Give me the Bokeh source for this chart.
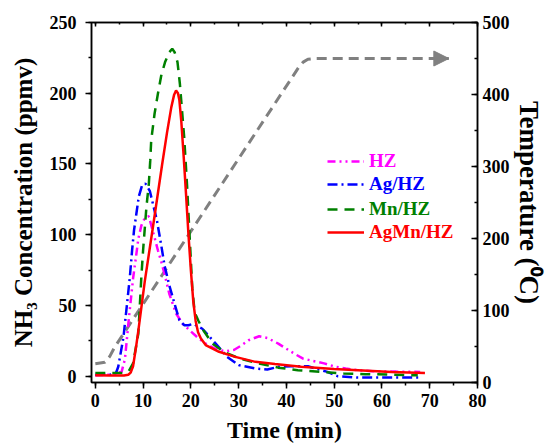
from bokeh.plotting import figure
from bokeh.models import (Range1d, LinearAxis, SingleIntervalTicker, Legend, LegendItem,
                          Arrow, NormalHead)
from bokeh.embed import file_html
from bokeh.resources import INLINE

# ---------------- data ----------------
time_hz = [0, 3, 5.5, 6.2, 7.0, 7.9, 8.5, 9.0, 9.65, 10.4, 11.2, 12.4, 13.1, 13.8, 14.5, 15.5,
           16.9, 18.3, 19.7, 21.5, 23.1, 25.0, 27.2, 29.0, 30.5, 32.1, 34.3, 36.0, 38.3, 41.0,
           43.4, 45.5, 47.9, 50.3, 52.4, 54.8, 58, 63, 68]
nh3_hz = [0.5, 1.0, 3, 12, 40, 69, 84, 97, 106.6, 112, 113, 98, 89, 81, 72, 58,
          44.3, 37, 32.5, 27, 23, 19.5, 17.5, 18.5, 21.5, 25.4, 28.2, 27, 23, 17.2,
          12.5, 10.8, 9, 6.6, 5.4, 4.2, 3.5, 3.2, 3]

time_ag = [0, 3, 4.3, 4.8, 5.9, 7.2, 7.7, 8.1, 8.6, 9.1, 9.8, 10.5, 11.4, 12.9, 13.8, 14.5,
           15.5, 16.6, 17.6, 18.6, 19.5, 20.5, 22.4, 25.2, 27.6, 30, 33.5, 36, 38.3, 41,
           44.5, 46.5, 48.6, 50.7, 54.8, 60, 67.6]
nh3_ag = [1, 1, 2, 6.6, 27.7, 69, 89, 103, 115, 127, 135, 136, 131, 110, 92.5, 78,
          64, 51, 39.5, 36, 36, 37, 33.5, 23, 13.6, 7.8, 5.4, 4.7, 6.6, 7,
          7, 5, 3, 0, -1, -1, -1]

time_mn = [0, 3, 5.9, 7, 7.9, 9.0, 9.65, 10.0, 10.7, 11.2, 11.5, 11.7, 12.4, 13.1, 13.8, 14.6,
           15.5, 16.1, 16.6, 17.2, 17.7, 18.1, 18.6, 19.2, 19.8, 20.3, 20.8, 21.6, 22.5, 24.5,
           27, 30, 34.1, 38.3, 42.4, 47.6, 52, 56.5, 61, 65.5, 67.5]
nh3_mn = [2.3, 2.3, 2.3, 3.5, 9, 30, 71, 89, 119.6, 136, 152.5, 166.7, 185.5, 199.6, 212.5, 222,
          229, 231.4, 229, 222, 206.7, 190, 169, 135, 95, 62, 45, 39, 33, 23,
          17, 12.7, 9, 6, 4.2, 3, 1.9, 1.4, 1.2, 0.7, 0.7]

time_agmn = [0, 3, 6, 6.9, 7.4, 7.9, 8.5, 9.0, 10.35, 12.0, 14.0, 15.0, 15.9, 16.5, 16.9, 17.3,
             17.6, 18.0, 18.5, 19.0, 19.5, 20.0, 20.5, 21.0, 21.5, 22.1, 23.1, 25.9, 29.3, 33.5,
             37.6, 43.1, 50, 56, 62, 69]
nh3_agmn = [0.7, 0.5, 0.5, 1, 2.5, 7, 20, 32, 67, 104, 150, 172, 190, 199, 202, 200,
            195, 180, 155, 128, 100, 75, 53, 39, 31, 26.6, 22, 17.2, 13.6, 10.1,
            8.5, 6.6, 5, 4, 3, 2.3]

time_temp = [0, 2, 3, 4, 42.5, 43.5, 44.5, 46, 74]
temp_c = [26, 28, 36, 48.5, 437, 445, 449, 450, 450]

labels = ["HZ", "Ag/HZ", "Mn/HZ", "AgMn/HZ"]
colors = ["#FF00FF", "#0000FF", "#008000", "#FF0000"]
dashes = ["8 4 2 4 2 4", "10 4 2 4", "10 7", "solid"]

x_ticks_interval = 10
y_ticks_interval = 50
t_ticks_interval = 100
x_tick_values = [0, 10, 20, 30, 40, 50, 60, 70, 80]

FONT = "Liberation Serif"

p = figure(width=546, height=448, output_backend="svg", toolbar_location=None,
           x_range=Range1d(-0.8, 80), y_range=Range1d(-4.5, 250))
p.min_border_left = 91
p.min_border_right = 65
p.min_border_top = 22
p.min_border_bottom = 66
p.xgrid.visible = False
p.ygrid.visible = False
p.outline_line_color = "black"
p.outline_line_width = 1.5
p.background_fill_color = "white"
p.border_fill_color = "white"

p.extra_y_ranges = {"temp": Range1d(0, 500)}

def style_axis(ax, tin, tout):
    ax.axis_line_width = 1.5
    ax.axis_line_color = "black"
    ax.major_tick_line_width = 1.5
    ax.minor_tick_line_width = 1.5
    ax.major_tick_in = tin
    ax.major_tick_out = tout
    ax.minor_tick_in = tin // 2 if tin else 0
    ax.minor_tick_out = tout // 2 if tout else 0
    ax.major_label_text_font = FONT
    ax.major_label_text_font_style = "bold"
    ax.major_label_text_font_size = "18px"
    ax.major_label_text_color = "black"
    ax.axis_label_text_font = FONT
    ax.axis_label_text_font_style = "bold"
    ax.axis_label_text_font_size = "25px"
    ax.axis_label_text_color = "black"

xa = p.xaxis[0]
xa.ticker = SingleIntervalTicker(interval=x_ticks_interval, num_minor_ticks=2)
style_axis(xa, 0, 6)
xa.axis_label = "Time (min)"
xa.axis_label_text_font_size = "24px"
xa.major_label_standoff = 5
xa.axis_label_standoff = 7

ya = p.yaxis[0]
ya.ticker = SingleIntervalTicker(interval=y_ticks_interval, num_minor_ticks=2)
style_axis(ya, 0, 6)
ya.axis_label = "NH\u2083 Concentration (ppmv)"
ya.major_label_standoff = 9
ya.axis_label_standoff = 10

ra = LinearAxis(y_range_name="temp",
                ticker=SingleIntervalTicker(interval=t_ticks_interval, num_minor_ticks=2))
style_axis(ra, 6, 0)
ra.axis_label = "Temperature (\u2070C)"
ra.axis_label_text_font_size = "27px"
ra.major_label_standoff = 5
ra.axis_label_standoff = 1
p.add_layout(ra, "right")

ta = LinearAxis(ticker=SingleIntervalTicker(interval=x_ticks_interval, num_minor_ticks=2))
style_axis(ta, 4, 0)
ta.major_label_overrides = {v: "" for v in x_tick_values}
ta.major_label_standoff = 0
p.add_layout(ta, "above")

# temperature
p.line(time_temp, temp_c, y_range_name="temp", line_color="#808080", line_width=3,
       line_dash="10 6")
p.add_layout(Arrow(end=NormalHead(size=15, fill_color="#808080", line_color="#808080"),
                   x_start=time_temp[-2], y_start=temp_c[-2],
                   x_end=time_temp[-1], y_end=temp_c[-1],
                   y_range_name="temp", line_alpha=0))

series = [(time_hz, nh3_hz), (time_ag, nh3_ag), (time_mn, nh3_mn), (time_agmn, nh3_agmn)]
rends = []
for (tx, vy), c, d in zip(series, colors, dashes):
    r = p.line(tx, vy, line_color=c, line_width=2.5, line_dash=d)
    rends.append(r)

legend_y = [210, 187, 162, 139]
for lab, c, r, ly in zip(labels, colors, rends, legend_y):
    leg = Legend(items=[LegendItem(label=lab, renderers=[r])], location=(236, ly),
                 glyph_width=37, glyph_height=20, label_height=20, label_standoff=5,
                 padding=0, spacing=0, margin=0,
                 border_line_alpha=0, background_fill_alpha=0,
                 label_text_font=FONT, label_text_font_style="bold",
                 label_text_font_size="19px", label_text_color=c)
    p.add_layout(leg)

open("out.html", "w").write(file_html(p, INLINE))
